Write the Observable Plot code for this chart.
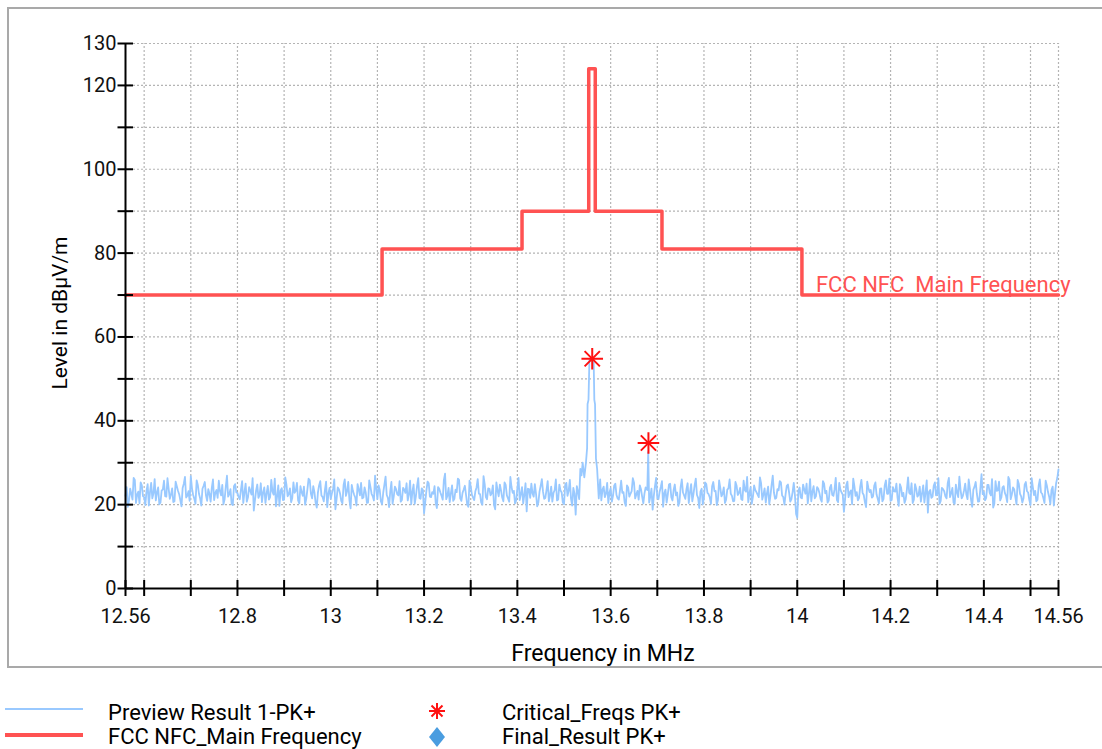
<!DOCTYPE html>
<html>
<head>
<meta charset="utf-8">
<script src="https://cdn.jsdelivr.net/npm/d3@7"></script>
<script src="https://cdn.jsdelivr.net/npm/@observablehq/plot@0.6"></script>
<style>
  body { margin: 0; background: #fff; font-family: Roboto, "Liberation Sans", sans-serif; }
  #wrap { position: relative; width: 1102px; height: 749px; overflow: hidden; background: #fff; }
  #frame { position: absolute; left: 7px; top: 7px; width: 1120px; height: 661px; box-sizing: border-box;
           border: 2px solid #a9a9a9; border-right: none; }
  #chart { position: absolute; left: 0; top: 0; }
  .t { position: absolute; font-size: 22px; color: #000; white-space: nowrap; line-height: 1; }
  #ytitle { left: 60px; top: 313px; font-size: 21px; transform: translate(-50%, -50%) rotate(-90deg); }
  #xtitle { left: 603px; top: 653px; font-size: 23px; transform: translate(-50%, -50%); }
  .lg { transform: translateY(-50%); }
  .swatch { position: absolute; }
</style>
</head>
<body>
<div id="wrap">
  <div id="frame"></div>
  <div id="chart"></div>
  <div class="t" id="ytitle">Level in dBµV/m</div>
  <div class="t" id="xtitle">Frequency in MHz</div>
  <div id="legend"></div>
</div>
<script>
// ---- Data ----
const freqStart = 12.56;
const freqEnd = 14.56;

// Preview Result 1-PK+ : levels on a uniform frequency grid from 12.56 to 14.56 MHz (dBµV/m)
const previewLevels = [
  22.1,19.5,23.8,21.2,25.9,22.4,20.3,24.6,21.8,23.3,19.8,25.2,22.7,21.0,24.1,20.5,23.6,22.0,26.3,21.4,
  23.9,20.8,24.4,22.5,19.6,25.0,21.7,23.2,26.8,22.3,20.2,24.7,21.5,23.8,25.4,20.9,22.6,24.0,21.1,23.5,
  25.7,22.2,20.1,24.3,21.9,23.7,19.9,24.9,22.8,21.3,25.6,23.0,20.7,24.2,22.4,18.6,23.4,21.6,25.1,22.9,
  20.4,24.5,21.8,23.1,26.2,22.0,19.7,23.9,21.2,24.8,22.5,20.6,25.3,23.3,21.0,24.4,22.1,20.0,23.7,25.8,
  21.5,23.0,19.3,24.6,22.2,20.8,25.5,22.7,21.4,23.8,18.9,24.1,22.6,20.3,26.0,23.2,21.1,24.7,22.4,19.8,
  23.6,25.2,21.7,22.9,20.5,24.3,22.0,26.9,21.3,23.5,20.1,24.8,22.3,19.4,25.4,21.9,23.7,22.2,20.7,24.0,
  22.8,21.0,25.7,23.1,20.2,24.5,21.6,23.9,17.9,23.3,25.1,21.8,22.6,20.4,24.2,22.9,21.2,27.4,22.1,20.6,
  24.6,21.4,23.0,25.9,20.9,23.6,22.3,19.5,24.4,21.7,23.2,26.1,22.5,20.0,24.9,21.3,23.8,22.7,19.9,25.3,
  22.0,23.4,20.8,24.7,21.5,26.6,22.8,20.3,23.9,21.1,24.2,22.4,18.4,23.7,25.0,21.9,22.6,20.5,24.5,23.1,
  21.6,25.6,22.2,20.7,23.5,21.0,24.8,22.9,20.1,25.2,23.3,21.4,24.0,17.6,23.1,28.5,30.0,25.0,25.0,25.0,
  25.0,25.0,25.0,30.5,21.0,24.3,22.6,20.4,23.9,22.1,25.0,21.5,23.4,22.8,20.6,24.6,21.9,23.2,25.3,22.4,
  21.2,23.7,20.3,24.1,23.0,22.0,18.8,24.4,21.6,23.1,25.6,22.7,20.5,24.8,21.8,23.5,22.2,19.7,24.2,22.9,
  21.4,25.1,23.0,20.8,24.6,22.3,19.2,23.8,21.7,24.9,22.5,20.2,25.4,23.3,21.1,24.0,22.6,20.4,23.6,26.0,
  22.1,20.9,24.5,22.8,21.3,25.7,23.1,20.6,24.2,21.9,23.5,22.4,26.5,21.2,23.9,22.7,20.1,24.7,22.9,21.6,
  23.4,25.3,21.8,22.5,24.8,20.7,23.0,22.2,16.9,24.1,21.5,23.6,25.0,22.6,20.8,24.4,22.0,23.8,21.3,25.6,
  22.7,20.5,24.0,22.3,23.7,21.1,25.2,22.9,18.3,24.6,21.8,23.4,26.2,22.1,21.0,24.3,22.8,20.6,25.5,23.0,
  21.7,24.5,22.4,20.3,23.9,21.4,25.8,22.6,20.9,24.2,23.1,21.6,24.9,22.0,20.4,23.6,22.8,25.1,21.2,23.8,
  22.3,20.7,24.6,22.9,18.1,23.5,21.9,25.3,22.5,20.2,24.0,23.2,21.5,26.4,22.7,20.5,24.8,21.8,23.6,22.1,
  25.0,21.3,23.9,19.5,24.3,22.6,20.8,27.3,23.0,21.6,24.7,22.2,19.3,25.6,23.4,21.0,24.1,22.8,20.6,25.9,
  22.4,23.7,20.1,24.9,22.0,21.5,25.4,22.9,19.9,24.2,23.3,21.2,26.0,22.6,20.4,24.6,21.9,23.5,19.8,25.2,
  28.4
];
// Readings half-way between the grid points above
const previewLevelsMid = [
  24.2,21.0,22.6,26.4,20.4,23.1,25.3,22.0,19.9,24.9,23.0,21.5,26.1,22.9,20.1,23.4,25.7,21.9,23.8,22.4,
  20.6,25.5,23.3,21.1,24.0,26.6,22.1,20.9,23.9,21.4,25.8,22.6,19.8,24.5,22.2,23.7,20.7,26.0,22.8,21.6,
  23.2,24.7,21.3,26.9,22.5,20.2,24.4,22.9,21.8,23.6,20.4,25.0,21.7,23.3,26.3,21.0,24.8,22.3,20.6,24.1,
  22.7,21.2,25.9,22.4,19.6,24.6,23.4,21.1,26.5,22.0,23.9,21.6,22.8,25.2,20.3,23.0,24.3,21.4,26.2,22.6,
  24.4,20.5,22.9,25.6,21.8,23.5,19.4,24.0,22.7,26.0,21.3,23.7,20.9,24.7,22.1,25.4,19.1,23.3,21.7,24.9,
  22.2,21.5,24.1,20.4,25.8,22.6,21.0,23.8,24.6,20.8,22.9,26.7,21.6,23.2,20.2,24.3,22.5,25.6,21.1,23.6,
  25.1,22.4,20.1,24.8,22.0,26.3,21.4,23.5,20.6,25.5,21.9,23.0,24.4,19.2,23.8,22.1,25.9,21.3,24.0,22.7,
  20.9,23.6,26.2,21.5,22.8,24.5,20.0,25.7,22.4,21.1,24.1,22.6,20.5,26.8,21.8,23.9,22.2,24.6,18.9,23.4,
  24.8,21.7,25.3,22.2,20.7,24.2,23.3,21.0,26.4,22.5,20.3,25.1,23.8,21.6,22.7,24.9,19.6,23.1,26.1,21.4,
  23.5,20.8,24.3,22.8,26.0,21.2,23.4,20.5,24.7,22.1,25.9,19.8,22.6,24.4,21.3,27.0,31.0,25.0,25.0,25.0,
  25.0,25.0,25.0,26.0,23.6,21.8,25.2,22.9,20.7,24.5,22.3,21.2,25.7,23.0,19.7,24.1,22.6,26.3,21.5,23.3,
  24.6,21.9,22.7,25.5,20.9,23.8,22.1,26.4,21.3,24.2,19.5,23.6,22.4,25.0,21.0,24.8,22.9,20.6,26.0,22.2,
  23.7,20.4,24.9,22.5,26.2,21.6,23.1,20.1,25.3,22.8,21.7,24.4,23.2,19.9,25.8,22.0,24.1,21.2,23.9,22.6,
  20.8,25.4,22.3,24.0,21.1,23.5,26.6,22.7,20.2,24.6,23.0,21.8,25.1,22.4,20.5,24.3,22.1,26.9,21.4,23.7,
  25.6,22.2,20.0,24.5,22.9,21.3,25.2,17.8,23.4,21.7,24.8,22.6,20.3,26.1,23.1,21.5,24.2,22.8,20.7,25.0,
  23.3,21.0,24.7,22.1,26.4,20.6,23.6,22.4,21.2,25.5,22.9,20.1,24.4,23.0,21.6,25.9,22.3,19.4,24.0,23.5,
  22.0,25.3,21.4,23.8,20.8,24.6,22.6,26.2,21.1,23.2,25.0,19.7,24.1,22.8,21.3,26.5,22.5,20.4,24.9,21.9,
  24.3,22.7,20.5,25.8,23.1,21.6,24.5,22.2,26.3,20.9,23.7,22.0,25.1,21.8,24.0,20.2,22.9,26.7,21.5,23.4,
  22.4,26.0,21.2,23.6,25.4,20.7,23.9,22.5,21.0,24.7,22.8,26.1,20.3,23.3,25.5,21.7,24.4,22.1,26.6,21.3,
  24.1,21.8,25.9,22.6,20.5,24.8,23.2,21.1,26.3,22.3,20.8,24.5,22.9,21.6,25.7,23.0,20.2,24.3,22.7,26.4
];

// Detailed points of the carrier peak and the 13.68 MHz spike
const peakFreqs  = [13.5435, 13.547, 13.5495, 13.5505, 13.5525, 13.5545, 13.560, 13.5635, 13.5650, 13.5665, 13.5685, 13.571, 13.5745, 13.6785, 13.6805, 13.6825];
const peakLevels = [26.5,    30.0,   33.5,    44.0,    45.0,    54.7,    54.3,   54.7,    45.0,    44.0,    31.0,    28.5,   21.5,    23.5,    32.5,    20.5];

// FCC NFC_Main Frequency limit (step-after breakpoints)
const limitFreqs  = [12.56, 13.11, 13.41, 13.553, 13.567, 13.71, 14.01, 14.56];
const limitLevels = [70.0,  81.0,  90.0,  124.0,  90.0,   81.0,  70.0,  70.0];

// Critical_Freqs PK+
const criticalFreqs  = [13.5605, 13.681];
const criticalLevels = [54.8,    34.7];

// Axis ticks
const xTicks = [12.56, 12.6, 12.7, 12.8, 12.9, 13.0, 13.1, 13.2, 13.3, 13.4, 13.5, 13.6, 13.7, 13.8, 13.9, 14.0, 14.1, 14.2, 14.3, 14.4, 14.5, 14.56];
const xTickLabels = [12.56, 12.8, 13.0, 13.2, 13.4, 13.6, 13.8, 14.0, 14.2, 14.4, 14.56];
const yTicks = [0, 10, 20, 30, 40, 50, 60, 70, 80, 90, 100, 110, 120, 130];
const yTickLabels = [0, 20, 40, 60, 80, 100, 120, 130];
const xGrid = [12.6, 12.7, 12.8, 12.9, 13.0, 13.1, 13.2, 13.3, 13.4, 13.5, 13.6, 13.7, 13.8, 13.9, 14.0, 14.1, 14.2, 14.3, 14.4, 14.5, 14.56];
const yGrid = [10, 20, 30, 40, 50, 60, 70, 80, 90, 100, 110, 120, 130];

const limitLabel = "FCC NFC  Main Frequency";
const limitLabelAt = {f: 14.04, level: 70.0};

const legendItems = ["Preview Result 1-PK+", "FCC NFC_Main Frequency", "Critical_Freqs PK+", "Final_Result PK+"];

// ---- Build tables ----
const step = (freqEnd - freqStart) / (previewLevels.length - 1);
const inPeak = f => (f > 13.542 && f < 13.576) || (f > 13.677 && f < 13.684);
const uniform = previewLevels.map((v, i) => ({f: freqStart + i * step, v}))
  .concat(previewLevelsMid.map((v, i) => ({f: freqStart + (i + 0.5) * step, v})))
  .filter(d => !inPeak(d.f) && d.f <= freqEnd);
const preview = uniform.concat(peakFreqs.map((f, i) => ({f, v: peakLevels[i]})))
  .sort((a, b) => a.f - b.f);
const limit = limitFreqs.map((f, i) => ({f, v: limitLevels[i]}));
const critical = criticalFreqs.map((f, i) => ({f, v: criticalLevels[i]}));

const fmt = d => String(+(+d).toFixed(2));
const grid = {stroke: "#b4b4b4", strokeWidth: 1.2, strokeDasharray: "2,2"};

const chart = Plot.plot({
  width: 1102,
  height: 680,
  marginLeft: 125,
  marginRight: 44,
  marginTop: 43,
  marginBottom: 92,
  style: {fontFamily: "Roboto, 'Liberation Sans', sans-serif", fontSize: "20px", background: "transparent", overflow: "visible"},
  x: {domain: [freqStart, freqEnd]},
  y: {domain: [0, 130]},
  marks: [
    Plot.ruleX(xGrid, {x: d => d, y1: 0, y2: 130, ...grid}),
    Plot.ruleY(yGrid, {y: d => d, x1: freqStart, x2: freqEnd, ...grid}),
    Plot.axisX({ticks: xTickLabels, tickSize: 0, tickPadding: 20, tickFormat: fmt, label: null, fontSize: 20, fill: "#111"}),
    Plot.axisY({ticks: yTickLabels, tickSize: 0, tickPadding: 9, tickFormat: fmt, label: null, fontSize: 20, fill: "#111"}),
    Plot.line(limit, {x: "f", y: "v", curve: "step-after", stroke: "#ff5252", strokeWidth: 3.5}),
    Plot.text([limitLabelAt], {x: "f", y: "level", text: () => limitLabel, textAnchor: "start", lineAnchor: "bottom", dy: -3, fill: "#ff5252", fontSize: 22}),
    Plot.line(preview, {x: "f", y: "v", stroke: "#99c9ff", strokeWidth: 1.8}),
    Plot.dot(critical, {x: "f", y: "v", symbol: "plus", r: 7, stroke: "#ff1010", strokeWidth: 2}),
    Plot.dot(critical, {x: "f", y: "v", symbol: "times", r: 7, stroke: "#ff1010", strokeWidth: 2}),
    Plot.ruleX([freqStart], {x: d => d, y1: 0, y2: 130, stroke: "#000", strokeWidth: 2}),
    Plot.ruleY([0], {y: d => d, x1: freqStart, x2: freqEnd, stroke: "#000", strokeWidth: 2}),
    Plot.ruleY(yTicks, {y: d => d, x1: freqStart, x2: freqStart, insetLeft: -7.5, insetRight: -8, stroke: "#000", strokeWidth: 2}),
    Plot.ruleX(xTicks, {x: d => d, y1: 0, y2: 0, insetTop: -8, insetBottom: -8, stroke: "#000", strokeWidth: 2})
  ]
});
document.getElementById("chart").appendChild(chart);

// ---- Legend ----
const lg = document.getElementById("legend");
function addText(txt, x, y) {
  const d = document.createElement("div");
  d.className = "t lg";
  d.style.left = x + "px"; d.style.top = y + "px";
  d.textContent = txt;
  lg.appendChild(d);
}
function addSwatch(x, y, w, h, color) {
  const d = document.createElement("div");
  d.className = "swatch";
  d.style.left = x + "px"; d.style.top = y + "px";
  d.style.width = w + "px"; d.style.height = h + "px"; d.style.background = color;
  lg.appendChild(d);
}
addSwatch(5, 708, 78, 2, "#99c9ff");
addSwatch(5, 733, 78, 4, "#ff5252");
addText(legendItems[0], 108, 713);
addText(legendItems[1], 108, 737);
addText(legendItems[2], 502, 713);
addText(legendItems[3], 502, 737);
const ns = "http://www.w3.org/2000/svg";
const sym = document.createElementNS(ns, "svg");
sym.setAttribute("width", 30); sym.setAttribute("height", 60);
sym.style.position = "absolute"; sym.style.left = "423px"; sym.style.top = "695px";
sym.innerHTML =
  '<g stroke="#ff1010" stroke-width="2">' +
  '<line x1="14" y1="8" x2="14" y2="24"/><line x1="6" y1="16" x2="22" y2="16"/>' +
  '<line x1="8.5" y1="10.5" x2="19.5" y2="21.5"/><line x1="8.5" y1="21.5" x2="19.5" y2="10.5"/></g>' +
  '<path d="M14 32 L22 42 L14 52 L6 42 Z" fill="#4a9de0"/>';
lg.appendChild(sym);
</script>
</body>
</html>
